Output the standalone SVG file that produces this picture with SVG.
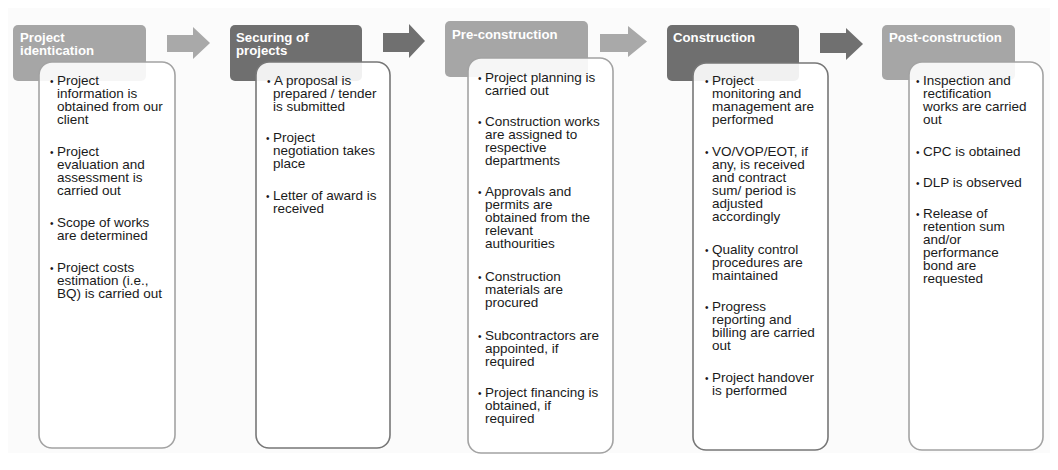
<svg xmlns="http://www.w3.org/2000/svg" width="1058" height="470" viewBox="0 0 1058 470">
<style>
.hl{fill:#a6a6a6}
.hd{fill:#6f6f6f}
.al{fill:#a9a9a9}
.ad{fill:#707070}
.card{fill:#ffffff;fill-opacity:0.9;stroke-width:1.6}
.cl{stroke:#a3a3a3}
.cd{stroke:#777777}
.ht{font-family:"Liberation Sans",Arial,sans-serif;font-weight:bold;font-size:13.2px;fill:#ffffff}
.bt{font-family:"Liberation Sans",Arial,sans-serif;font-size:13.5px;fill:#1a1a1a}
</style>
<rect x="0" y="0" width="1058" height="470" fill="#ffffff"/>
<rect x="8" y="8" width="1042" height="445" fill="#fbfbfb"/>
<g id="connectors">
<polygon class="al" points="167,35 193,35 193,27 210,43 193,59 193,52 167,52"/>
<polygon class="ad" points="383,33 409,33 409,24 425,41 409,58 409,52 383,52"/>
<polygon class="al" points="600,34 628,34 628,26 647,41.5 628,57 628,52 600,52"/>
<polygon class="ad" points="820,33 846,33 846,28 863,44 846,60 846,53 820,53"/>
</g>
<g id="node-project-identification">
<rect class="hl" x="13" y="25" width="133" height="56" rx="5"/>
<text class="ht" x="20" y="42">Project</text>
<text class="ht" x="20" y="55">identication</text>
<rect class="card cl" x="39" y="62" width="136" height="386" rx="13"/>
<text class="bt"><tspan x="50" y="85" font-size="10">•</tspan><tspan x="57" y="85">Project</tspan><tspan x="57" y="98">information is</tspan><tspan x="57" y="111">obtained from our</tspan><tspan x="57" y="124">client</tspan></text>
<text class="bt"><tspan x="50" y="156" font-size="10">•</tspan><tspan x="57" y="156">Project</tspan><tspan x="57" y="169">evaluation and</tspan><tspan x="57" y="182">assessment is</tspan><tspan x="57" y="195">carried out</tspan></text>
<text class="bt"><tspan x="50" y="227" font-size="10">•</tspan><tspan x="57" y="227">Scope of works</tspan><tspan x="57" y="240">are determined</tspan></text>
<text class="bt"><tspan x="50" y="272" font-size="10">•</tspan><tspan x="57" y="272">Project costs</tspan><tspan x="57" y="285">estimation (i.e.,</tspan><tspan x="57" y="298">BQ) is carried out</tspan></text>
</g>
<g id="node-securing-of-projects">
<rect class="hd" x="230" y="25" width="132" height="56" rx="5"/>
<text class="ht" x="236" y="42">Securing of</text>
<text class="ht" x="236" y="55">projects</text>
<rect class="card cd" x="256" y="62" width="134" height="386" rx="13"/>
<text class="bt"><tspan x="267" y="85" font-size="10">•</tspan><tspan x="274" y="85">A proposal is</tspan><tspan x="273" y="98">prepared / tender</tspan><tspan x="273" y="111">is submitted</tspan></text>
<text class="bt"><tspan x="266" y="142" font-size="10">•</tspan><tspan x="273" y="142">Project</tspan><tspan x="273" y="155">negotiation takes</tspan><tspan x="273" y="168">place</tspan></text>
<text class="bt"><tspan x="266" y="200" font-size="10">•</tspan><tspan x="273" y="200">Letter of award is</tspan><tspan x="273" y="213">received</tspan></text>
</g>
<g id="node-pre-construction">
<rect class="hl" x="445" y="21" width="143" height="56" rx="5"/>
<text class="ht" x="452" y="38.5">Pre-construction</text>
<rect class="card cl" x="468" y="58" width="145" height="395" rx="13"/>
<text class="bt"><tspan x="478" y="82" font-size="10">•</tspan><tspan x="485" y="82">Project planning is</tspan><tspan x="485" y="95">carried out</tspan></text>
<text class="bt"><tspan x="478" y="126" font-size="10">•</tspan><tspan x="485" y="126">Construction works</tspan><tspan x="485" y="139">are assigned to</tspan><tspan x="485" y="152">respective</tspan><tspan x="485" y="165">departments</tspan></text>
<text class="bt"><tspan x="478" y="196" font-size="10">•</tspan><tspan x="485" y="196">Approvals and</tspan><tspan x="485" y="209">permits are</tspan><tspan x="485" y="222">obtained from the</tspan><tspan x="485" y="235">relevant</tspan><tspan x="485" y="248">authourities</tspan></text>
<text class="bt"><tspan x="478" y="281" font-size="10">•</tspan><tspan x="485" y="281">Construction</tspan><tspan x="485" y="294">materials are</tspan><tspan x="485" y="307">procured</tspan></text>
<text class="bt"><tspan x="478" y="340" font-size="10">•</tspan><tspan x="485" y="340">Subcontractors are</tspan><tspan x="485" y="353">appointed, if</tspan><tspan x="485" y="366">required</tspan></text>
<text class="bt"><tspan x="478" y="397" font-size="10">•</tspan><tspan x="485" y="397">Project financing is</tspan><tspan x="485" y="410">obtained, if</tspan><tspan x="485" y="423">required</tspan></text>
</g>
<g id="node-construction">
<rect class="hd" x="667" y="25" width="132" height="56" rx="5"/>
<text class="ht" x="673" y="42">Construction</text>
<rect class="card cd" x="693" y="63" width="135" height="387" rx="13"/>
<text class="bt"><tspan x="705" y="85" font-size="10">•</tspan><tspan x="712" y="85">Project</tspan><tspan x="712" y="98">monitoring and</tspan><tspan x="712" y="111">management are</tspan><tspan x="712" y="124">performed</tspan></text>
<text class="bt"><tspan x="705" y="156" font-size="10">•</tspan><tspan x="712" y="156">VO/VOP/EOT, if</tspan><tspan x="712" y="169">any, is received</tspan><tspan x="712" y="182">and contract</tspan><tspan x="712" y="195">sum/ period is</tspan><tspan x="712" y="208">adjusted</tspan><tspan x="712" y="221">accordingly</tspan></text>
<text class="bt"><tspan x="705" y="254" font-size="10">•</tspan><tspan x="712" y="254">Quality control</tspan><tspan x="712" y="267">procedures are</tspan><tspan x="712" y="280">maintained</tspan></text>
<text class="bt"><tspan x="705" y="311" font-size="10">•</tspan><tspan x="712" y="311">Progress</tspan><tspan x="712" y="324">reporting and</tspan><tspan x="712" y="337">billing are carried</tspan><tspan x="712" y="350">out</tspan></text>
<text class="bt"><tspan x="705" y="382" font-size="10">•</tspan><tspan x="712" y="382">Project handover</tspan><tspan x="712" y="395">is performed</tspan></text>
</g>
<g id="node-post-construction">
<rect class="hl" x="882" y="25" width="133" height="55" rx="5"/>
<text class="ht" x="889" y="42">Post-construction</text>
<rect class="card cl" x="909" y="62" width="134" height="388" rx="13"/>
<text class="bt"><tspan x="916" y="85" font-size="10">•</tspan><tspan x="923" y="85">Inspection and</tspan><tspan x="923" y="98">rectification</tspan><tspan x="923" y="111">works are carried</tspan><tspan x="923" y="124">out</tspan></text>
<text class="bt"><tspan x="916" y="156" font-size="10">•</tspan><tspan x="923" y="156">CPC is obtained</tspan></text>
<text class="bt"><tspan x="916" y="187" font-size="10">•</tspan><tspan x="923" y="187">DLP is observed</tspan></text>
<text class="bt"><tspan x="916" y="218" font-size="10">•</tspan><tspan x="923" y="218">Release of</tspan><tspan x="923" y="231">retention sum</tspan><tspan x="923" y="244">and/or</tspan><tspan x="923" y="257">performance</tspan><tspan x="923" y="270">bond are</tspan><tspan x="923" y="283">requested</tspan></text>
</g>
</svg>
